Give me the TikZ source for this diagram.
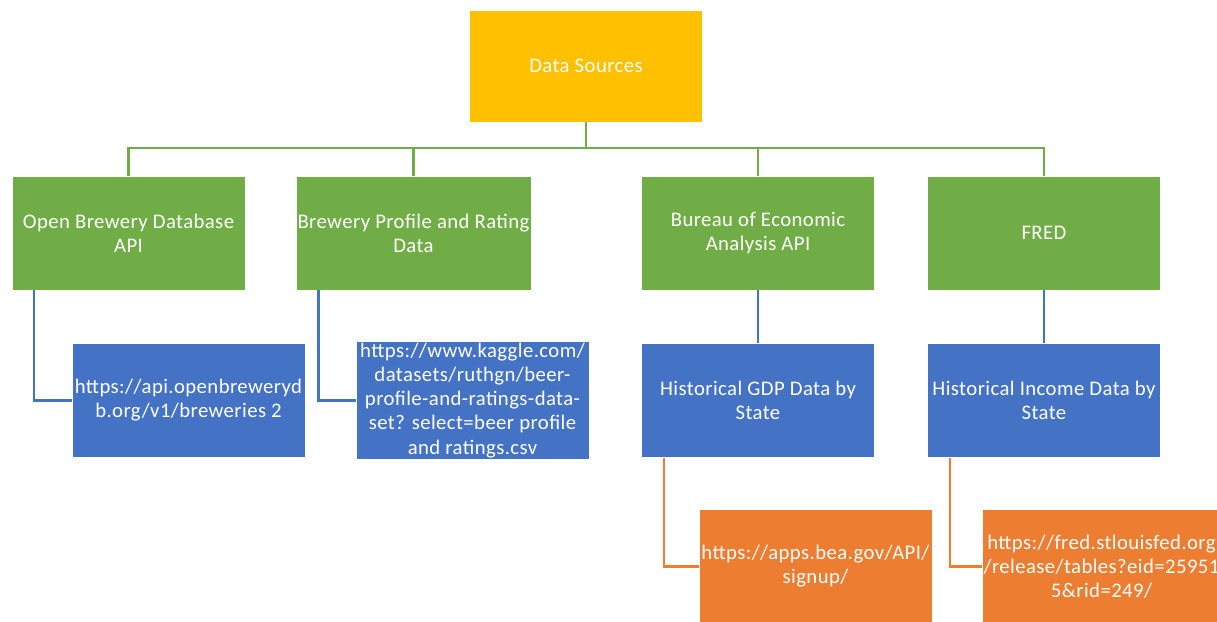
\documentclass[tikz,border=0pt]{standalone}
\usepackage{fontspec}
\setmainfont[LetterSpace=2.0]{Carlito}
\usetikzlibrary{calc}
\definecolor{srcgold}{HTML}{FFC000}
\definecolor{apigreen}{HTML}{70AD47}
\definecolor{setblue}{HTML}{4472C4}
\definecolor{siteorange}{HTML}{ED7D31}
\tikzset{
	box/.style={draw=white, line width=0.3pt, minimum width=4.66cm, minimum height=2.28cm, inner sep=1pt, text=white, align=center, font=\fontsize{11.8}{13.7}\selectfont},
	link/.style={line width=1.3pt}
}

\begin{document}
\begin{tikzpicture}[x=0.02cm, y=-0.02cm]
			%%%%% START %%%%%
			
			\clip (0, 0) rectangle (1217, 622);
			
			\node[box, fill=srcgold, minimum height=2.24cm] (src) at (586, 66) {Data Sources};
			
			\node[box, fill=apigreen] (obdb) at (128.5, 233) {Open Brewery Database\\API};
			\node[box, fill=apigreen] (bprd) at (413.5, 233) {Brewery Profile and Rating\\Data};
			\node[box, fill=apigreen] (bea) at (758, 233) {Bureau of Economic\\Analysis API};
			\node[box, fill=apigreen] (fred) at (1044, 233) {FRED};
			
			\node[box, fill=setblue] (obdbUrl) at (188.5, 400.5) {https://api.openbreweryd\\b.org/v1/breweries 2};
			\node[box, fill=setblue] (bprdUrl) at (472.5, 400.5) {https://www.kaggle.com/\\datasets/ruthgn/beer-\\profile-and-ratings-data-\\set? select=beer profile\\and ratings.csv};
			\node[box, fill=setblue] (beaUrl) at (758, 400.5) {Historical GDP Data by\\State};
			\node[box, fill=setblue] (fredUrl) at (1044, 400.5) {Historical Income Data by\\State};
			
			\node[box, fill=siteorange] (beaSite) at (815.5, 566.5) {https://apps.bea.gov/API/\\signup/};
			\node[box, fill=siteorange] (fredSite) at (1101.5, 566.5) {https://fred.stlouisfed.org\\/release/tables?eid=25951\\5\&rid=249/};
			
			\foreach \api in {obdb, bprd, bea, fred}
				\draw[link, color=apigreen] (src.south) -- ++(0, 26) -| (\api.north);
			
			\draw[link, color=setblue] ([xshift=0.44cm]obdb.south west) |- (obdbUrl.west);
			\draw[link, color=setblue] ([xshift=0.46cm]bprd.south west) |- (bprdUrl.west);
			\draw[link, color=setblue] (bea.south) -- (beaUrl.north);
			\draw[link, color=setblue] (fred.south) -- (fredUrl.north);
			
			\draw[link, color=siteorange] ([xshift=0.46cm]beaUrl.south west) |- (beaSite.west);
			\draw[link, color=siteorange] ([xshift=0.46cm]fredUrl.south west) |- (fredSite.west);
			
			%%%%% END %%%%%
\end{tikzpicture}
\end{document}
